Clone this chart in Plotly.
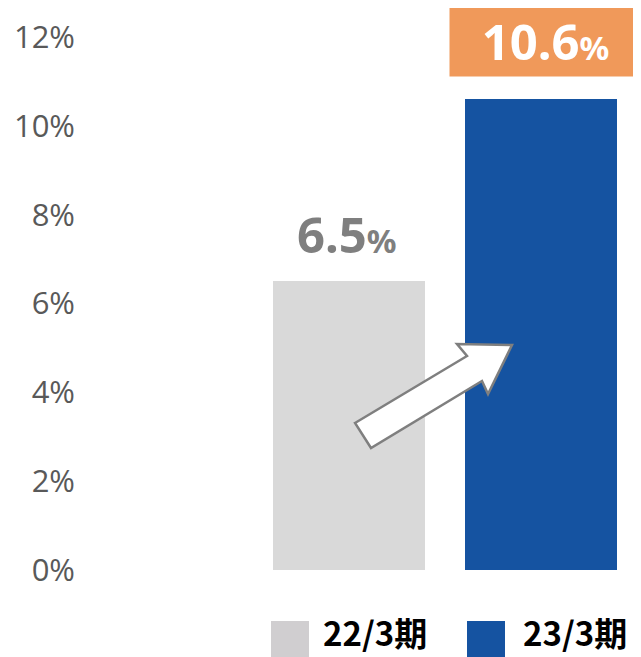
import plotly.graph_objects as go

categories = ["22/3期", "23/3期"]
values = [6.5, 10.6]
bar_colors = ["#D9D9D9", "#1553A1"]
legend_colors = ["#D0CED0", "#1553A1"]
tick_vals = [0, 2, 4, 6, 8, 10, 12]
tick_text = ["0%", "2%", "4%", "6%", "8%", "10%", "12%"]

OFF = 8  # page body margin offset
W, H = 641 - OFF, 657 - OFF
ML, MR, MT = 80 - OFF, 4, 37 - OFF
MB = H - (570 - OFF)
X_RANGE = [-1.401, 1.5]
Y_RANGE = [0, 12]
PW = W - ML - MR
PH = H - MT - MB

def px_to_x(px):
    px -= OFF
    return X_RANGE[0] + (px - ML) / PW * (X_RANGE[1] - X_RANGE[0])

def py_to_y(py):
    py -= OFF
    return Y_RANGE[1] - (py - MT) / PH * (Y_RANGE[1] - Y_RANGE[0])

def px_paper(px):
    return (px - OFF - ML) / PW

def py_paper(py):
    return (H - MB - (py - OFF)) / PH

xs = list(range(len(categories)))

fig = go.Figure()
fig.add_trace(go.Bar(
    x=xs, y=values, width=0.79,
    marker=dict(color=bar_colors, line=dict(width=0)),
    showlegend=False, hoverinfo="skip",
))

# value labels
fig.add_annotation(
    x=xs[0], y=values[0], xref="x", yref="y",
    text=f"<b>{values[0]}<span style='font-size:33px'>%</span></b>",
    showarrow=False, yanchor="bottom", yshift=12, xshift=-2,
    font=dict(family="Noto Sans", size=49, color="#7F7F7F"),
)
fig.add_annotation(
    x=xs[1], y=values[1], xref="x", yref="y",
    text=f"<b>{values[1]}<span style='font-size:33px'>%</span></b>",
    showarrow=False, yanchor="bottom", yshift=22, xshift=4,
    width=183, height=63, borderpad=4,
    bgcolor="#F0995A",
    font=dict(family="Noto Sans", size=49, color="#FFFFFF"),
)

# arrow (decorative)
arrow_px = [(355, 423), (467, 356), (457, 344), (512, 345),
            (488, 394), (482, 381), (371, 448)]
path = "M " + " L ".join(f"{px_to_x(a):.4f},{py_to_y(b):.4f}" for a, b in arrow_px) + " Z"
fig.add_shape(type="path", path=path, xref="x", yref="y",
              fillcolor="#FFFFFF", line=dict(color="#7F7F7F", width=2.5), layer="above")

# custom legend
leg_sq = [(271, 309), (467, 505)]
leg_txt_x = [322, 522]
for i, cat in enumerate(categories):
    x0, x1 = leg_sq[i]
    fig.add_shape(type="rect", xref="paper", yref="paper",
                  x0=px_paper(x0), x1=px_paper(x1), y0=py_paper(657), y1=py_paper(621),
                  fillcolor=legend_colors[i], line=dict(width=0))
    fig.add_annotation(
        x=px_paper(leg_txt_x[i]), y=py_paper(632), xref="paper", yref="paper",
        text=f"<b>{cat}</b>", showarrow=False, xanchor="left", yanchor="middle",
        borderpad=0,
        font=dict(family="Noto Sans CJK JP", size=33, color="#000000"),
    )

fig.update_layout(
    width=W, height=H,
    margin=dict(l=ML, r=MR, t=MT, b=MB),
    paper_bgcolor="#FFFFFF", plot_bgcolor="#FFFFFF",
    bargap=0,
    xaxis=dict(range=X_RANGE, showticklabels=False, showgrid=False,
               zeroline=False, showline=False, fixedrange=True),
    yaxis=dict(range=Y_RANGE, tickvals=tick_vals, ticktext=tick_text,
               showgrid=False, zeroline=False, showline=False,
               tickfont=dict(family="Open Sans", size=31, color="#595959"),
               ticks="", ticklabelstandoff=4),
)

fig.write_html("out.html")
